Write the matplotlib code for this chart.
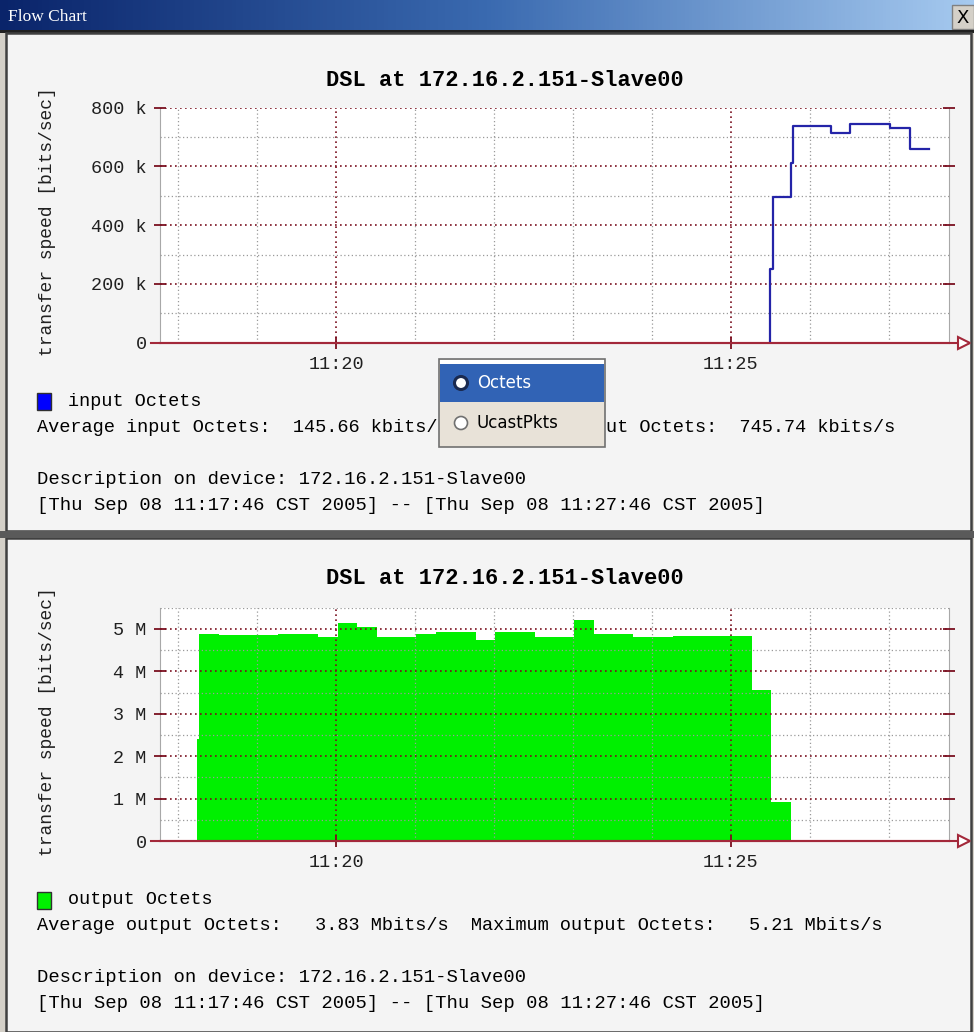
import matplotlib
matplotlib.use("Agg")
import matplotlib.pyplot as plt
import matplotlib.dates as mdates
from matplotlib.colors import LinearSegmentedColormap
from matplotlib.patches import Rectangle, Circle
from matplotlib.ticker import MultipleLocator, FuncFormatter
import numpy as np
import pandas as pd

# ---- data -------------------------------------------------------------
DAY = "2005-09-08 "
t_start, t_end = "11:17:46", "11:27:46"

# input Octets in kbits/s (each value holds until the next timestamp)
in_times = ["11:25:30", "11:25:30", "11:25:32", "11:25:46", "11:25:47",
            "11:26:16", "11:26:31", "11:27:01", "11:27:16", "11:27:31"]
in_kbits = [0, 250, 497, 612, 739, 713, 746, 730, 660, 660]

# output Octets in Mbits/s
out_times = ["11:18:14", "11:18:16", "11:18:31", "11:19:16", "11:19:46",
             "11:20:01", "11:20:16", "11:20:31", "11:21:01", "11:21:16",
             "11:21:46", "11:22:01", "11:22:31", "11:23:01", "11:23:16",
             "11:23:46", "11:24:16", "11:25:16", "11:25:31", "11:25:46"]
out_mbits = [2.4, 4.89, 4.85, 4.89, 4.82,
             5.13, 5.05, 4.82, 4.89, 4.93,
             4.74, 4.93, 4.82, 5.21, 4.89,
             4.82, 4.84, 3.56, 0.91, 0.0]

title = "DSL at 172.16.2.151-Slave00"
ylabel = "transfer speed [bits/sec]"
# the popup menu hides the middle of the input summary line
in_avg_parts = ["Average input Octets:  145.66 kbits/", "ut Octets:  745.74 kbits/s"]
out_avg_parts = ["Average output Octets:   3.83 Mbits/s  Maximum output Octets:   5.21 Mbits/s"]
desc_lines = ["Description on device: 172.16.2.151-Slave00",
              "[Thu Sep 08 11:17:46 CST 2005] -- [Thu Sep 08 11:27:46 CST 2005]"]
menu_items = ["Octets", "UcastPkts"]

# ---- styling ----------------------------------------------------------
W, H = 974, 1032
MONO = "Liberation Mono"
AXIS_RED = "#a3283a"
MAJOR_GRID = "#7a1020"
MINOR_GRID = "#9a9a9a"
BLUE = "#2424a8"
GREEN = "#00f000"


def ts(s):
    return pd.Timestamp(DAY + s)


def box(x0, y0, x1, y1):
    # pixel box (top-left origin) -> figure fraction rect
    return [x0 / W, 1 - y1 / H, (x1 - x0) / W, (y1 - y0) / H]


fig = plt.figure(figsize=(W / 100, H / 100), dpi=100, facecolor="#d4d0c8")

# background canvas in pixel coordinates
bg = fig.add_axes([0, 0, 1, 1], zorder=-1)
bg.set_axis_off()

# title bar gradient
grad = np.linspace(0, 1, 256)[None, :]
cmap = LinearSegmentedColormap.from_list("bar", ["#0a246a", "#3a6ab0", "#a6caf0"])
bg.imshow(grad, cmap=cmap, extent=(0, W, 31, 0), aspect="auto")
bg.set_xlim(0, W)
bg.set_ylim(H, 0)
bg.text(8, 17, "Flow Chart", color="white", fontsize=12.5,
        family="Liberation Serif", va="center", ha="left")
bg.add_patch(Rectangle((952, 5), 22, 24, facecolor="#d4d0c8", edgecolor="#808080", lw=1))
bg.text(963, 18, "X", fontsize=13, family="DejaVu Sans", ha="center", va="center")
bg.add_patch(Rectangle((0, 30), W, 3, facecolor="#202020", edgecolor="none"))

# the two panels
for y0, y1 in [(33, 531), (538, 1032)]:
    bg.add_patch(Rectangle((6, y0), 965, y1 - y0, facecolor="#f4f4f4",
                           edgecolor="#404040", lw=1.8))
bg.add_patch(Rectangle((0, 531), W, 7, facecolor="#5a5a5a", edgecolor="none"))


def draw_chart(ax, ymax, major, minor, unit):
    ax.set_facecolor("white")
    ax.set_xlim(ts(t_start), ts(t_end))
    ax.set_ylim(0, ymax)
    ax.spines["top"].set_visible(False)
    for side in ["left", "right"]:
        ax.spines[side].set_color("#a8a8a8")
    ax.spines["bottom"].set_color(AXIS_RED)
    ax.spines["bottom"].set_linewidth(1.5)

    ax.xaxis.set_major_locator(mdates.MinuteLocator(byminute=[20, 25]))
    ax.xaxis.set_minor_locator(mdates.MinuteLocator())
    ax.xaxis.set_major_formatter(mdates.DateFormatter("%H:%M"))
    ax.yaxis.set_major_locator(MultipleLocator(major))
    ax.yaxis.set_minor_locator(MultipleLocator(minor))
    ax.yaxis.set_major_formatter(
        FuncFormatter(lambda v, _: "0" if v == 0 else f"{v:.0f} {unit}"))

    ax.set_axisbelow(False)
    ax.grid(which="minor", color=MINOR_GRID, ls=(0, (1, 2)), lw=0.9)
    ax.grid(which="major", color=MAJOR_GRID, ls=(0, (1, 2)), lw=1.2)
    ax.tick_params(which="major", direction="inout", length=9, width=1.3,
                   color=MAJOR_GRID, labelsize=13.3, pad=5, right=True,
                   labelcolor="#202020")
    ax.tick_params(which="minor", length=0)
    for lab in ax.get_xticklabels() + ax.get_yticklabels():
        lab.set_family(MONO)

    # axis line running past the plot, ending in an open arrow head
    ax.plot([-0.012, 1.017], [0, 0], transform=ax.transAxes, color=AXIS_RED,
            lw=1.5, clip_on=False, zorder=4)
    ax.plot([1.019], [0], transform=ax.transAxes, marker=">", ms=8,
            mfc="white", mec=AXIS_RED, mew=1.5, clip_on=False, zorder=5)


# ---- top chart: input Octets ------------------------------------------
ax1 = fig.add_axes(box(160, 107.7, 949, 342.7))
draw_chart(ax1, 800, 200, 100, "k")
ax1.plot([ts(t) for t in in_times], in_kbits, drawstyle="steps-post",
         color=BLUE, lw=1.6, zorder=3)

# ---- bottom chart: output Octets ---------------------------------------
ax2 = fig.add_axes(box(160, 607.7, 949, 841))
draw_chart(ax2, 5.5, 1, 0.5, "M")
ax2.fill_between([ts(t) for t in out_times], out_mbits, step="post",
                 color=GREEN, lw=0, zorder=1)

# titles, axis labels and legends
for y_title, y_lab, y_leg, color, name, avg_parts in [
        (80, 222, 401, "#0000ff", "input Octets", in_avg_parts),
        (578, 722, 900, GREEN, "output Octets", out_avg_parts)]:
    bg.text(505, y_title, title, family=MONO, fontsize=15.8, weight="bold",
            ha="center", va="center")
    bg.text(48, y_lab, ylabel, family=MONO, fontsize=13, rotation=90,
            ha="center", va="center", color="#202020")
    bg.add_patch(Rectangle((37, y_leg - 8), 14, 17, facecolor=color,
                           edgecolor="#303030", lw=1))
    bg.text(68, y_leg, name, family=MONO, fontsize=13.3, va="center")
    bg.text(37, y_leg + 26, avg_parts[0], family=MONO, fontsize=13.45, va="center")
    if len(avg_parts) > 1:
        bg.text(895, y_leg + 26, avg_parts[1], family=MONO, fontsize=13.45,
                va="center", ha="right")
    for dy, line in zip([78, 104], desc_lines):
        bg.text(37, y_leg + dy, line, family=MONO, fontsize=13.6, va="center")

# ---- popup menu over the top legend ------------------------------------
pop = fig.add_axes([0, 0, 1, 1], zorder=10)
pop.set_axis_off()
pop.set_xlim(0, W)
pop.set_ylim(H, 0)
pop.patch.set_alpha(0)
pop.add_patch(Rectangle((439, 359), 166, 88, facecolor="#e8e2d8",
                        edgecolor="#707070", lw=1.2))
pop.add_patch(Rectangle((440, 360), 164, 4, facecolor="white", edgecolor="none"))
pop.add_patch(Rectangle((440, 364), 164, 38, facecolor="#3163b5", edgecolor="none"))
for k, (label, yc) in enumerate(zip(menu_items, [383, 423])):
    selected = k == 0
    pop.add_patch(Circle((461, yc), 6.5, facecolor="white",
                         edgecolor="#1a2a50" if selected else "#707070",
                         lw=2.2 if selected else 1.2))
    pop.text(477, yc, label, family="DejaVu Sans", fontsize=12,
             color="white" if selected else "black", va="center", ha="left")

fig.savefig("out.png", dpi=100, facecolor=fig.get_facecolor())
